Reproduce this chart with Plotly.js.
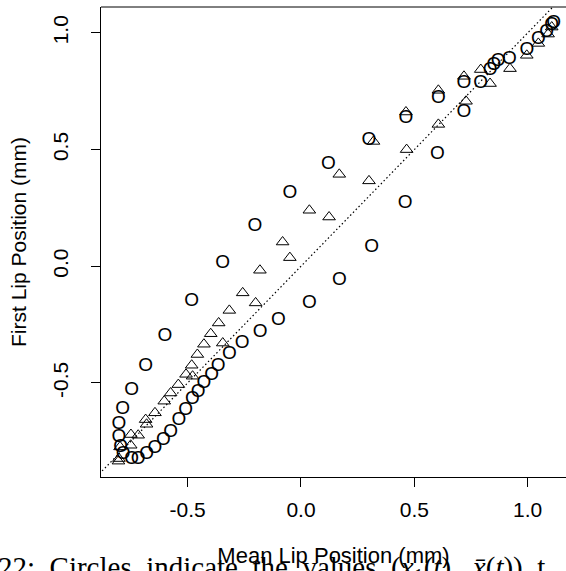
<!DOCTYPE html>
<html>
<head>
<meta charset="utf-8">
<script src="https://cdn.plot.ly/plotly-3.0.1.min.js"></script>
<style>
html, body { margin: 0; padding: 0; background: #fff; overflow: hidden; }
#chart { width: 566px; height: 571px; }
</style>
</head>
<body>
<div id="chart"></div>
<script>
// Circles: (mean lip position, first lip position)
const circleX = [-0.482, -0.600, -0.685, -0.747, -0.787, -0.803, -0.803, -0.795, -0.784, -0.747,
  -0.718, -0.681, -0.644, -0.607, -0.575, -0.538, -0.509, -0.479, -0.453, -0.428,
  -0.394, -0.365, -0.316, -0.259, -0.180, -0.100, 0.037, 0.169, 0.312, 0.459,
  0.602, 0.719, 0.793, 0.834, 0.851, 0.870, 0.919, 0.996, 1.047, 1.084,
  1.106, 1.114, 0.719, 0.606, 0.463, 0.300, 0.121, -0.049, -0.203, -0.346];
const circleY = [-0.150, -0.300, -0.428, -0.531, -0.611, -0.678, -0.731, -0.774, -0.805, -0.828,
  -0.828, -0.807, -0.778, -0.746, -0.710, -0.660, -0.617, -0.571, -0.538, -0.503,
  -0.467, -0.427, -0.377, -0.329, -0.283, -0.231, -0.160, -0.060, 0.083, 0.270,
  0.478, 0.660, 0.783, 0.840, 0.861, 0.878, 0.887, 0.925, 0.971, 1.004,
  1.032, 1.040, 0.783, 0.721, 0.633, 0.540, 0.437, 0.314, 0.171, 0.014];

// Triangles
const triX = [-0.805, -0.803, -0.798, -0.751, -0.750, -0.718, -0.681, -0.685, -0.644, -0.603,
  -0.575, -0.541, -0.507, -0.478, -0.482, -0.457, -0.428, -0.345, -0.398, -0.363,
  -0.316, -0.257, -0.200, -0.181, -0.081, -0.049, 0.037, 0.124, 0.169, 0.300,
  0.320, 0.466, 0.463, 0.606, 0.606, 0.728, 0.719, 0.793, 0.834, 0.922,
  0.996, 1.047, 1.090, 1.106];
const triY = [-0.835, -0.824, -0.774, -0.767, -0.721, -0.724, -0.677, -0.657, -0.628, -0.578,
  -0.543, -0.507, -0.463, -0.471, -0.424, -0.378, -0.334, -0.329, -0.289, -0.243,
  -0.189, -0.114, -0.157, -0.017, 0.104, 0.037, 0.240, 0.211, 0.394, 0.366,
  0.535, 0.500, 0.661, 0.608, 0.754, 0.707, 0.814, 0.843, 0.783, 0.847,
  0.904, 0.955, 0.995, 1.025];

// Identity reference line y = x
const refLine = [-1.0, 1.3];

const tickVals = [-0.5, 0.0, 0.5, 1.0];
const tickText = ['-0.5', '0.0', '0.5', '1.0'];

const xTitle = 'Mean Lip Position (mm)';
const yTitle = 'First Lip Position (mm)';
const caption = '22:  Circles  indicate  the  values  (<i>x</i><sub>1</sub>(<i>t</i>),  <i>x̄</i>(<i>t</i>))  t';

const sansFont = 'Liberation Sans, Arial, Helvetica, sans-serif';

const traces = [
  {
    x: refLine, y: refLine, mode: 'lines', type: 'scatter', hoverinfo: 'skip',
    line: { color: '#000', width: 1.2, dash: '1.5px,2.5px' }, showlegend: false
  },
  {
    x: triX, y: triY, mode: 'markers', type: 'scatter', showlegend: false,
    marker: { symbol: 'triangle-up-open', size: 11, color: '#000', line: { color: '#000', width: 1 } }
  },
  {
    x: circleX, y: circleY, mode: 'text', type: 'scatter', showlegend: false,
    text: circleX.map(() => 'O'), textposition: 'middle center',
    textfont: { family: sansFont, size: 19, color: '#000' }
  }
];

const layout = {
  width: 566, height: 571,
  margin: { l: 101, r: 0, t: 7, b: 94, pad: 0 },
  paper_bgcolor: '#fff', plot_bgcolor: '#fff',
  showlegend: false,
  font: { family: sansFont, size: 21, color: '#000' },
  xaxis: {
    range: [-0.882, 1.169], showgrid: false, zeroline: false,
    showline: true, linecolor: '#000', linewidth: 1, mirror: false,
    ticks: 'outside', ticklen: 9, tickcolor: '#000', tickwidth: 1,
    tickmode: 'array', tickvals: tickVals, ticktext: tickText,
    ticklabelstandoff: 5,
    tickfont: { family: sansFont, size: 21, color: '#000' },
    title: { text: xTitle, font: { family: sansFont, size: 22, color: '#000' }, standoff: 27 },
    automargin: false
  },
  yaxis: {
    range: [-0.903, 1.111], showgrid: false, zeroline: false,
    showline: true, linecolor: '#000', linewidth: 1, mirror: false,
    ticks: 'outside', ticklen: 9, tickcolor: '#000', tickwidth: 1,
    tickmode: 'array', tickvals: tickVals, ticktext: tickText, tickangle: -90,
    ticklabelstandoff: 15,
    tickfont: { family: sansFont, size: 21, color: '#000' },
    title: { text: yTitle, font: { family: sansFont, size: 21, color: '#000' }, standoff: 16 },
    automargin: false
  },
  shapes: [
    { type: 'line', xref: 'paper', yref: 'paper', x0: 0, x1: 1, y0: 1, y1: 1,
      line: { color: '#000', width: 1 } }
  ],
  annotations: [
    { text: caption, xref: 'paper', yref: 'paper', x: -0.225, y: -0.153,
      xanchor: 'left', yanchor: 'top', showarrow: false,
      font: { family: 'Liberation Serif, DejaVu Serif, serif', size: 29, color: '#000' } }
  ]
};

Plotly.newPlot('chart', traces, layout, { displayModeBar: false, staticPlot: true });
</script>
</body>
</html>
